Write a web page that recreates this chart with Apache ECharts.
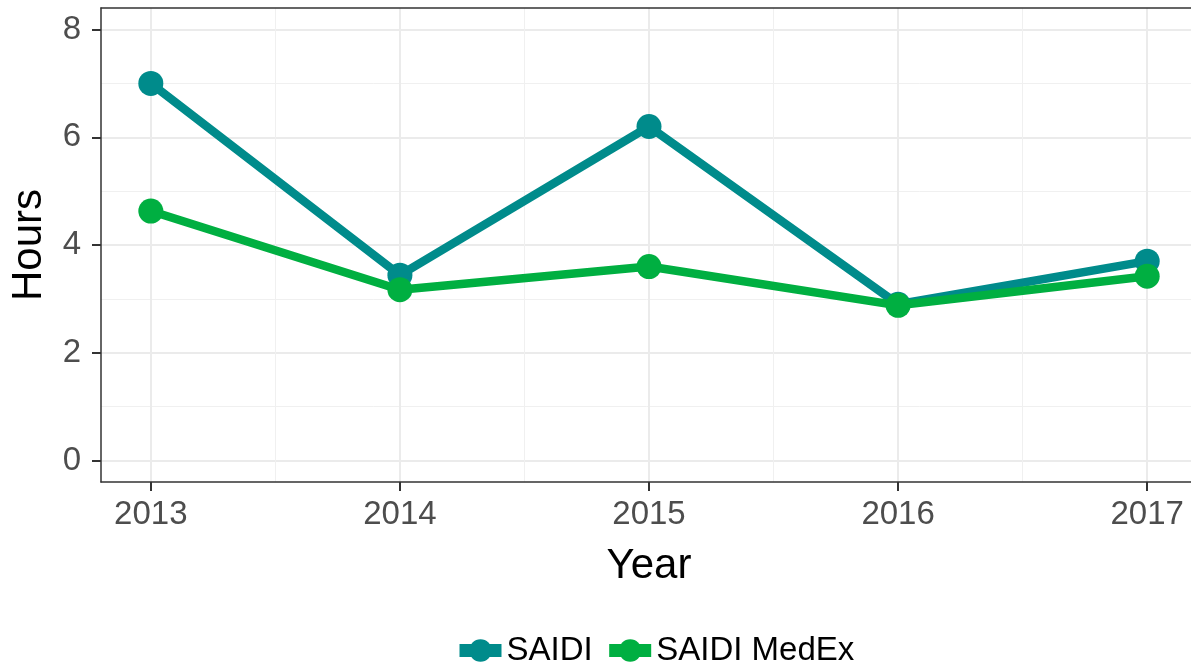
<!DOCTYPE html>
<html>
<head>
<meta charset="utf-8">
<script src="https://cdn.jsdelivr.net/npm/echarts@6/dist/echarts.min.js"></script>
<style>
  html, body { margin: 0; padding: 0; background: #fff; }
  #chart { width: 1191px; height: 666px; }
</style>
</head>
<body>
<div id="chart"></div>
<script>
// data
const years = [2013, 2014, 2015, 2016, 2017];
const saidi = [7.0, 3.44, 6.2, 2.9, 3.7];
const saidiMedEx = [4.63, 3.17, 3.6, 2.88, 3.42];
const yTicks = [0, 2, 4, 6, 8];
const yMinor = [1, 3, 5, 7];
const xMinor = [2013.5, 2014.5, 2015.5, 2016.5];

const font = '"Liberation Sans", Arial, sans-serif';
const teal = '#008B8B';
const green = '#00AF41';

const pairs = (vals) => years.map((y, i) => [y, vals[i]]);

const chart = echarts.init(document.getElementById('chart'), null, {renderer: 'canvas'});

chart.setOption({
    animation: false,
    backgroundColor: '#fff',
    textStyle: {fontFamily: font},
    grid: {left: 101, top: 8, width: 1096, height: 474, containLabel: false, outerBoundsMode: 'none'},
    legend: {
        left: 448,
        top: 629,
        itemWidth: 42,
        itemHeight: 28,
        itemGap: 10,
        lineStyle: {width: 13},
        textStyle: {fontFamily: font, fontSize: 33, color: '#000'},
        data: ['SAIDI', 'SAIDI MedEx']
    },
    xAxis: [{
        type: 'value',
        min: 2012.8,
        max: 2017.2,
        name: 'Year',
        nameLocation: 'middle',
        nameGap: 63,
        nameTextStyle: {fontFamily: font, fontSize: 42, color: '#000'},
        axisLine: {show: true, onZero: false, lineStyle: {color: '#333', width: 1.5}},
        axisTick: {show: true, length: 9, customValues: years, lineStyle: {color: '#333', width: 2}},
        axisLabel: {customValues: years, margin: 16, fontSize: 33, color: '#4D4D4D', fontFamily: font,
            formatter: (v) => String(v)},
        splitLine: {show: true, lineStyle: {color: '#EBEBEB', width: 2}}
    }, {
        type: 'value',
        position: 'top',
        min: 2012.8,
        max: 2017.2,
        axisLine: {show: true, onZero: false, lineStyle: {color: '#333', width: 1.5}},
        axisTick: {show: false, customValues: xMinor},
        axisLabel: {show: false, customValues: xMinor},
        splitLine: {show: true, lineStyle: {color: '#F0F0F0', width: 1}}
    }],
    yAxis: [{
        type: 'value',
        min: -0.4,
        max: 8.4,
        name: 'Hours',
        nameLocation: 'middle',
        nameGap: 51,
        nameTextStyle: {fontFamily: font, fontSize: 42, color: '#000'},
        axisLine: {show: true, onZero: false, lineStyle: {color: '#333', width: 1.5}},
        axisTick: {show: true, length: 9, customValues: yTicks, lineStyle: {color: '#333', width: 2}},
        axisLabel: {customValues: yTicks, margin: 20, fontSize: 33, color: '#4D4D4D', fontFamily: font},
        splitLine: {show: true, lineStyle: {color: '#EBEBEB', width: 2}}
    }, {
        type: 'value',
        position: 'right',
        min: -0.4,
        max: 8.4,
        axisLine: {show: true, onZero: false, lineStyle: {color: '#333', width: 1.5}},
        axisTick: {show: false, customValues: yMinor},
        axisLabel: {show: false, customValues: yMinor},
        splitLine: {show: true, lineStyle: {color: '#F0F0F0', width: 1}}
    }],
    series: [{
        name: 'SAIDI',
        type: 'line',
        data: pairs(saidi),
        symbol: 'circle',
        symbolSize: 25,
        itemStyle: {color: teal},
        lineStyle: {color: teal, width: 8.5},
        z: 3
    }, {
        name: 'SAIDI MedEx',
        type: 'line',
        data: pairs(saidiMedEx),
        symbol: 'circle',
        symbolSize: 25,
        itemStyle: {color: green},
        lineStyle: {color: green, width: 8.5},
        z: 4
    }]
});
</script>
</body>
</html>
